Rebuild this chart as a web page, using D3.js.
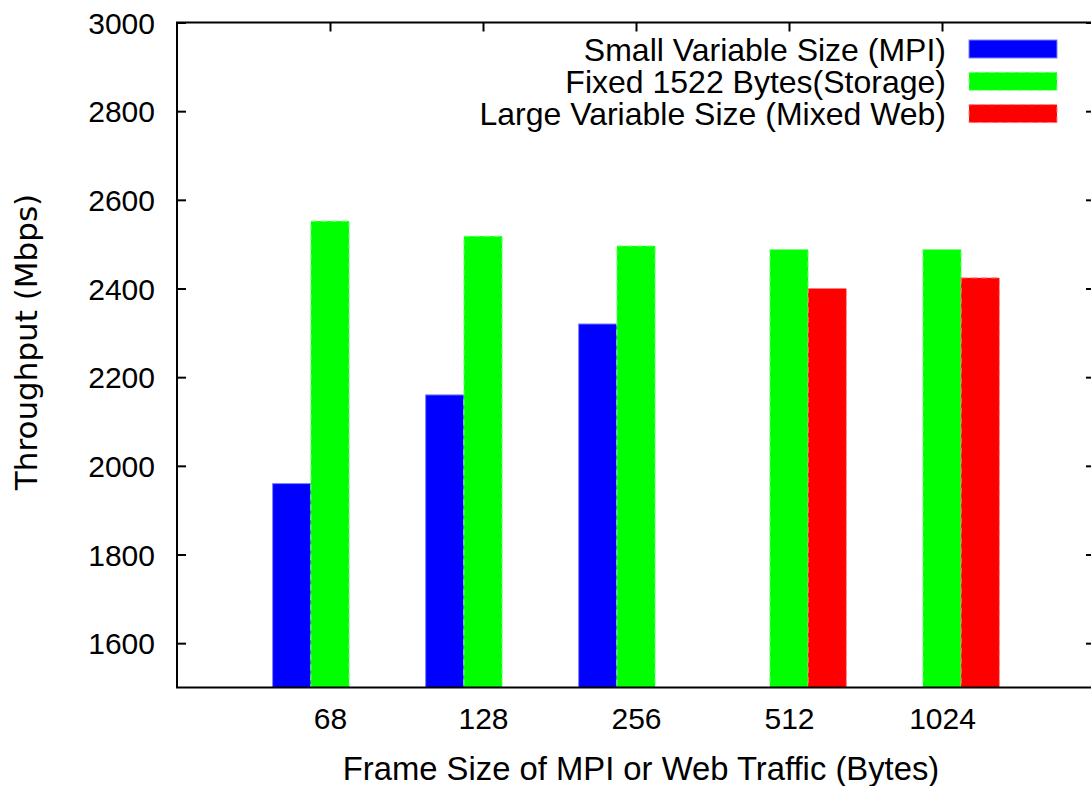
<!DOCTYPE html>
<html>
<head>
<meta charset="utf-8">
<script src="https://cdn.jsdelivr.net/npm/d3@7"></script>
<style>
  html, body { margin: 0; padding: 0; background: #fff; }
  svg { display: block; }
</style>
</head>
<body>
<svg id="chart" width="1091" height="786"></svg>
<script>
// Frame sizes (bytes) along the x axis
const categories = ["68", "128", "256", "512", "1024"];

// Throughput in Mbps for each traffic type (null = not measured)
const smallVariable = [1960, 2160, 2320, null, null];
const fixed1522 = [2552, 2518, 2496, 2488, 2488];
const largeVariable = [null, null, null, 2400, 2424];

const seriesNames = [
  "Small Variable Size (MPI)",
  "Fixed 1522 Bytes(Storage)",
  "Large Variable Size (Mixed Web)"
];
const seriesColors = ["#0000ff", "#00ff00", "#ff0000"];
const seriesEdge = ["#8080ff", "#80ff80", "#ff8080"];
const seriesDash = [null, "6,4", "6,4"];

const yTicks = [1600, 1800, 2000, 2200, 2400, 2600, 2800, 3000];

const series = [smallVariable, fixed1522, largeVariable];
const sansFont = "'Liberation Sans', Arial, Helvetica, sans-serif";

const svg = d3.select("#chart");
const margin = { left: 177, right: 1095, top: 22.5, bottom: 687.5 };

// Categories sit at integer positions; the frame spans one slot either side
const x = d3.scaleLinear().domain([-1, categories.length]).range([margin.left, margin.right]);
const y = d3.scaleLinear().domain([1500, 3000]).range([margin.bottom, margin.top]);
const barW = (x(1) - x(0)) / 4;

// Bars: middle series centred on the category, others one bar width to each side
series.forEach((vals, si) => {
  svg.append("g")
    .selectAll("rect")
    .data(vals.map((v, i) => ({ v, i })).filter(d => d.v !== null))
    .join("rect")
    .attr("x", d => x(d.i) + (si - 1) * barW - barW / 2)
    .attr("y", d => y(d.v))
    .attr("width", barW)
    .attr("height", d => y(1500) - y(d.v))
    .attr("fill", seriesColors[si])
    .attr("stroke", seriesEdge[si])
    .attr("stroke-width", 1)
    .attr("stroke-dasharray", seriesDash[si]);
});

// Frame
svg.append("rect")
  .attr("x", margin.left).attr("y", margin.top)
  .attr("width", margin.right - margin.left)
  .attr("height", margin.bottom - margin.top)
  .attr("fill", "none").attr("stroke", "#000").attr("stroke-width", 2);

// Left axis ticks and labels, mirrored ticks on the right
const tickLen = 9;
const yAxis = d3.axisLeft(y).tickValues(yTicks).tickFormat(d3.format("d"))
  .tickSize(-tickLen).tickPadding(22);
const yg = svg.append("g").attr("transform", `translate(${margin.left},0)`).call(yAxis);
yg.select(".domain").remove();
yg.selectAll(".tick line").attr("stroke", "#000").attr("stroke-width", 2);
yg.selectAll(".tick text")
  .style("font-family", sansFont)
  .style("font-size", "30px")
  .attr("dy", "0.36em")
  .attr("fill", "#000");

const yRight = d3.axisRight(y).tickValues(yTicks).tickSize(-tickLen).tickFormat("");
const yrg = svg.append("g").attr("transform", `translate(${margin.right},0)`).call(yRight);
yrg.select(".domain").remove();
yrg.selectAll(".tick line").attr("stroke", "#000").attr("stroke-width", 2);

// Bottom axis labels and mirrored ticks at the top
const xAxis = d3.axisBottom(x)
  .tickValues(d3.range(categories.length))
  .tickFormat(i => categories[i])
  .tickSize(0).tickPadding(20);
const xg = svg.append("g").attr("transform", `translate(0,${margin.bottom})`).call(xAxis);
xg.select(".domain").remove();
xg.selectAll(".tick text")
  .style("font-family", sansFont)
  .style("font-size", "30px")
  .attr("dy", "0.71em")
  .attr("fill", "#000");

const xTop = d3.axisTop(x).tickValues(d3.range(categories.length)).tickSize(-tickLen).tickFormat("");
const xtg = svg.append("g").attr("transform", `translate(0,${margin.top})`).call(xTop);
xtg.select(".domain").remove();
xtg.selectAll(".tick line").attr("stroke", "#000").attr("stroke-width", 2);

// Axis titles
svg.append("text")
  .attr("x", 641)
  .attr("y", 780)
  .attr("text-anchor", "middle")
  .style("font-family", sansFont)
  .style("font-size", "32.8px")
  .text("Frame Size of MPI or Web Traffic (Bytes)");

svg.append("text")
  .attr("transform", "translate(37,342) rotate(-90)")
  .attr("text-anchor", "middle")
  .style("font-family", "'DejaVu Sans', sans-serif")
  .style("font-size", "31px")
  .text("Throughput (Mbps)");

// Legend
const legend = svg.append("g");
seriesNames.forEach((name, si) => {
  const cy = 49 + si * 32.3;
  legend.append("text")
    .attr("x", 946)
    .attr("y", cy)
    .attr("dy", "0.36em")
    .attr("text-anchor", "end")
    .style("font-family", sansFont)
    .style("font-size", "32px")
    .text(name);
  legend.append("rect")
    .attr("x", 969).attr("y", cy - 9)
    .attr("width", 88).attr("height", 18)
    .attr("fill", seriesColors[si])
    .attr("stroke", seriesEdge[si])
    .attr("stroke-width", 1)
    .attr("stroke-dasharray", seriesDash[si]);
});
</script>
</body>
</html>
